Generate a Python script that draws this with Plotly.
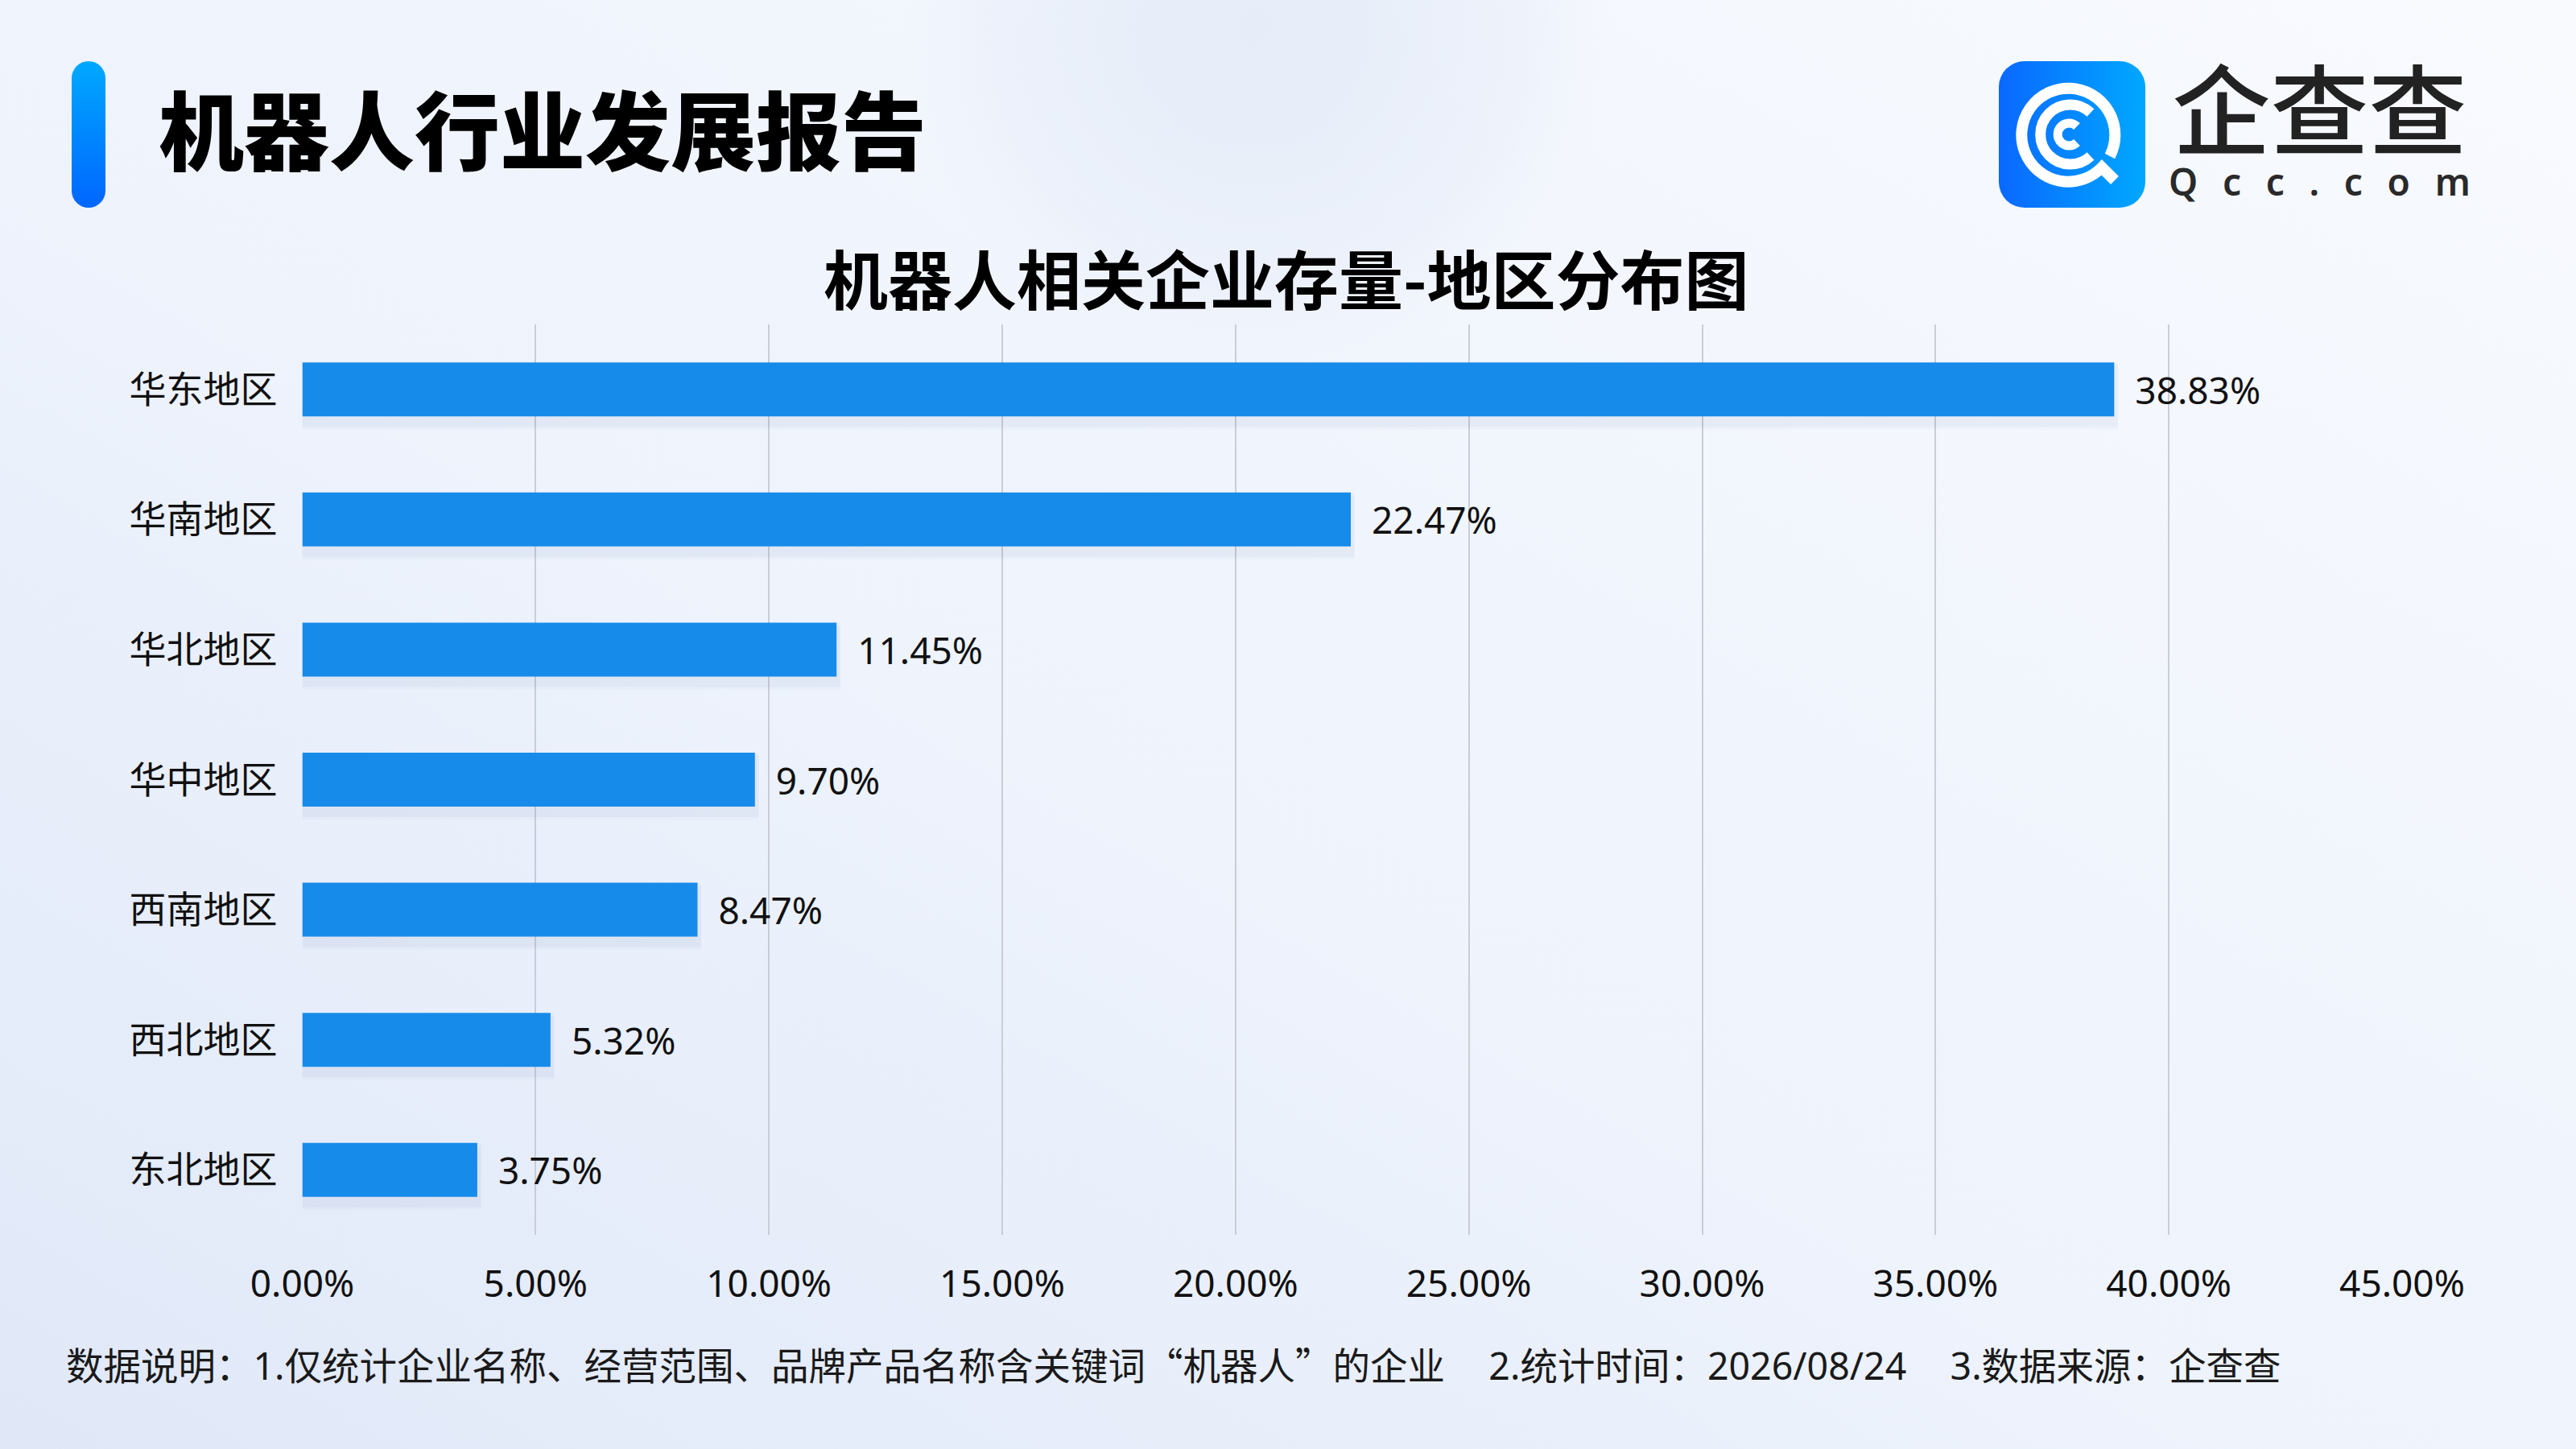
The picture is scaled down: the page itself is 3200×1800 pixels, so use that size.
import base64
import plotly.graph_objects as go

W, H = 3200, 1800

# data
regions = ["华东地区", "华南地区", "华北地区", "华中地区", "西南地区", "西北地区", "东北地区"]
shares = [38.83, 22.47, 11.45, 9.70, 8.47, 5.32, 3.75]
x_ticks = [0, 5, 10, 15, 20, 25, 30, 35, 40, 45]
x_tick_text = [f"{v:.2f}%" for v in x_ticks]

report_title = "机器人行业发展报告"
chart_title = "机器人相关企业存量-地区分布图"
Q_OPEN = '<span style="font-family:Noto Sans CJK SC">“</span>'
Q_CLOSE = '<span style="font-family:Noto Sans CJK SC">”</span>'
footnote = ("数据说明：1.仅统计企业名称、经营范围、品牌产品名称含关键词" + Q_OPEN + "机器人" + Q_CLOSE
            + "的企业\u3000\u20062.统计时间：2026/08/24\u3000\u20063.数据来源：企查查")
brand_cn = "企查查"
brand_en = "Qcc.com"

BAR_BLUE = "#178BEA"
GRID = "#C9CDD6"
LATIN = "Noto Sans, Noto Sans CJK SC"
CJK = "Noto Sans CJK SC"


def px_x(x):
    return x / W


def px_y(y):
    return 1 - y / H


# backdrop: page gradient, title accent bar and the logo mark (pixel coords)
backdrop = f"""<svg xmlns="http://www.w3.org/2000/svg" width="{W}" height="{H}" viewBox="0 0 {W} {H}">
<defs>
 <linearGradient id="bg" x1="0" y1="1" x2="1" y2="0">
  <stop offset="0" stop-color="#E0E8F8"/>
  <stop offset="0.45" stop-color="#EEF3FC"/>
  <stop offset="1" stop-color="#F8FAFE"/>
 </linearGradient>
 <radialGradient id="blob" cx="0.5" cy="0.5" r="0.5">
  <stop offset="0" stop-color="#E4EBF8" stop-opacity="0.9"/>
  <stop offset="0.75" stop-color="#E8EEF9" stop-opacity="0.6"/>
  <stop offset="1" stop-color="#EEF3FC" stop-opacity="0"/>
 </radialGradient>
 <linearGradient id="accent" x1="0" y1="0" x2="0" y2="1">
  <stop offset="0" stop-color="#00A9FF"/>
  <stop offset="1" stop-color="#0066FF"/>
 </linearGradient>
 <linearGradient id="logo" x1="0" y1="0" x2="1" y2="0">
  <stop offset="0" stop-color="#0A68FF"/>
  <stop offset="1" stop-color="#00A8FF"/>
 </linearGradient>
</defs>
<rect width="{W}" height="{H}" fill="url(#bg)"/>
<circle cx="1560" cy="30" r="440" fill="url(#blob)"/>
<rect x="89" y="76" width="42" height="182" rx="21" fill="url(#accent)"/>
<rect x="2483" y="76" width="182" height="182" rx="32" fill="url(#logo)"/>
<g fill="none" stroke="#FFFFFF" stroke-width="14">
 <path d="M 2627 224 L 2611 208 A 58 58 0 1 1 2621 194"/>
</g>
<g fill="none" stroke="#FFFFFF" stroke-width="13">
 <path d="M 2597 194 A 37 37 0 1 1 2597 140"/>
</g>
<g fill="none" stroke="#FFFFFF" stroke-width="11">
 <path d="M 2580 177 A 14 14 0 1 1 2580 157"/>
</g>
</svg>"""
backdrop_uri = "data:image/svg+xml;base64," + base64.b64encode(backdrop.encode("utf-8")).decode()

fig = go.Figure()

# soft shadow under each bar
for extra, alpha in [(0.10, 0.025), (0.06, 0.035)]:
    fig.add_trace(go.Bar(
        y=regions, x=[v + 0.08 for v in shares], orientation="h",
        width=0.4146 + extra, offset=-(0.4146 + extra) / 2 + 0.05,
        marker=dict(color=f"rgba(40,70,140,{alpha})", line=dict(width=0)),
        hoverinfo="skip", showlegend=False,
    ))

fig.add_trace(go.Bar(
    y=regions, x=shares, orientation="h",
    width=0.4146, offset=-0.2073,
    marker=dict(color=BAR_BLUE, line=dict(width=0)),
    texttemplate="\u2002%{x:.2f}%", textposition="outside",
    textfont=dict(family=LATIN, size=46, color="#111111"),
    constraintext="none", cliponaxis=False, showlegend=False,
))

fig.update_layout(
    width=W, height=H,
    margin=dict(l=0, r=0, t=0, b=0, autoexpand=False),
    paper_bgcolor="#EEF3FC",
    plot_bgcolor="rgba(0,0,0,0)",
    barmode="overlay",
    font=dict(family=LATIN, color="#111111"),
    xaxis=dict(
        domain=[px_x(375.5), px_x(2984)], automargin=False,
        range=[0, 45], tickvals=x_ticks, ticktext=x_tick_text,
        showgrid=True, gridcolor=GRID, gridwidth=2, zeroline=False,
        showline=False, ticks="", ticklabelstandoff=30,
        tickfont=dict(family=LATIN, size=46, color="#111111"),
    ),
    yaxis=dict(
        domain=[px_y(1534), px_y(403)], automargin=False,
        categoryorder="array", categoryarray=regions,
        range=[6.5, -0.5], showgrid=False, zeroline=False, showline=False,
        ticks="", ticklabelstandoff=30,
        tickfont=dict(family=CJK, size=46, color="#111111"),
    ),
    images=[dict(source=backdrop_uri, xref="paper", yref="paper", x=0, y=1,
                 sizex=1, sizey=1, sizing="stretch", xanchor="left", yanchor="top",
                 layer="below")],
)

# header, chart title, footnote and brand text
fig.add_annotation(text=report_title, x=px_x(195), y=px_y(157), xref="paper", yref="paper",
                   xanchor="left", yanchor="middle", showarrow=False,
                   font=dict(family=CJK, size=106, color="#000000", weight=900))
fig.add_annotation(text=chart_title, x=px_x(1598), y=px_y(343), xref="paper", yref="paper",
                   xanchor="center", yanchor="middle", showarrow=False,
                   font=dict(family=CJK, size=80, color="#000000", weight=700))
fig.add_annotation(text=footnote, x=px_x(80), y=px_y(1694), xref="paper", yref="paper",
                   xanchor="left", yanchor="middle", showarrow=False,
                   font=dict(family=LATIN, size=46.5, color="#1A1A1A"))
# brand name and domain as one two-line text block
brand_text = ('<span style="font-family:Noto Sans CJK SC;font-size:122px;font-weight:500;'
              'color:#222222">' + brand_cn + '</span><br>' + "\u2002\u2006".join(brand_en))
fig.add_annotation(text=brand_text, x=px_x(2881), y=px_y(258), xref="paper", yref="paper",
                   xanchor="center", yanchor="bottom", align="center", showarrow=False,
                   font=dict(family=LATIN, size=46, color="#2A2A2A", weight=600))

fig.write_html("out.html", config={"displayModeBar": False},
               post_script="document.body.style.margin='0px';")
